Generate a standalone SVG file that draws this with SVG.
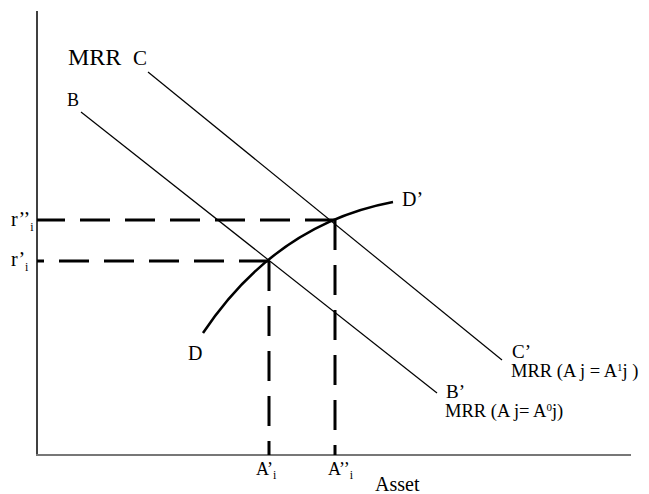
<svg xmlns="http://www.w3.org/2000/svg" width="649" height="494" viewBox="0 0 649 494">
<style>
text{font-family:"Liberation Serif","Times New Roman",serif;fill:#000}
.lbl{font-size:18px}
.dash{stroke:#000;stroke-width:3;fill:none;stroke-dasharray:30 15}
.thin{stroke:#000;stroke-width:1.2;fill:none}
</style>
<rect width="649" height="494" fill="#fff"/>
<g id="axes">
<line x1="37" y1="11" x2="37" y2="456" stroke="#000" stroke-width="1.5"/>
<line x1="36" y1="455" x2="631" y2="455" stroke="#777" stroke-width="2"/>
</g>
<g id="connectors">
<line class="thin" x1="148" y1="72" x2="502" y2="360"/>
<line class="thin" x1="81" y1="112" x2="437" y2="393"/>
<path d="M203,333 Q276,224 393,202" stroke="#000" stroke-width="2.5" fill="none"/>
<line class="dash" x1="335" y1="220" x2="37" y2="220"/>
<line class="dash" x1="269" y1="261" x2="37" y2="261"/>
<line class="dash" x1="269" y1="261" x2="269" y2="455"/>
<line class="dash" x1="335" y1="220" x2="335" y2="455"/>
</g>
<g id="labels">
<text x="68" y="65" font-size="24">MRR</text>
<text x="133" y="65" font-size="21">C</text>
<text x="67" y="106" class="lbl">B</text>
<text x="188" y="360" font-size="20">D</text>
<text x="402" y="206" font-size="20">D’</text>
<text x="512" y="358" font-size="19">C’</text>
<text x="511" y="377" font-size="18.5">MRR (A j = A<tspan font-size="11" dy="-6">1</tspan><tspan dy="6">j )</tspan></text>
<text x="446" y="398" font-size="19">B’</text>
<text x="445" y="417" font-size="18.5">MRR (A j= A<tspan font-size="11" dy="-6">0</tspan><tspan dy="6">j)</tspan></text>
<text x="11" y="226" font-size="20">r’’<tspan font-size="12" dy="5">i</tspan></text>
<text x="11" y="266" font-size="20">r’<tspan font-size="12" dy="5">i</tspan></text>
<text x="256" y="475" font-size="18">A’<tspan font-size="12" dy="4">i</tspan></text>
<text x="328" y="475" font-size="18">A’’<tspan font-size="12" dy="4">i</tspan></text>
<text x="375" y="491" font-size="20">Asset</text>
</g>
</svg>
